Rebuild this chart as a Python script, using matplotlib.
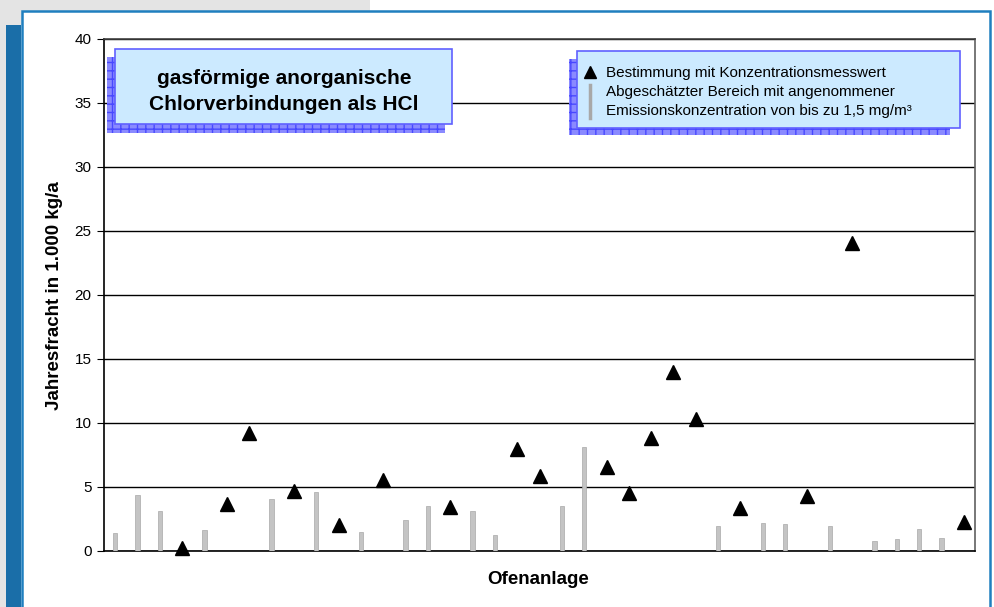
import matplotlib.pyplot as plt
from matplotlib.patches import Rectangle
from matplotlib.lines import Line2D
import numpy as np

plt.rcParams['font.family'] = ['Liberation Sans', 'DejaVu Sans']

# 39 Ofenanlagen, jeweils Messwert (Dreieck) oder abgeschätzter Bereich (Balken)
n_anlagen = 39
mess_idx = [3, 5, 6, 8, 10, 12, 15, 18, 19, 22, 23, 24, 25, 26, 28, 31, 33, 38]
mess_wert = [0.2, 3.7, 9.25, 4.65, 2.0, 5.55, 3.45, 8.0, 5.85, 6.6, 4.5, 8.8,
             14.0, 10.35, 3.35, 4.3, 24.05, 2.25]
bereich_idx = [0, 1, 2, 4, 7, 9, 11, 13, 14, 16, 17, 20, 21, 27, 29, 30, 32,
               34, 35, 36, 37]
bereich_max = [1.4, 4.35, 3.1, 1.65, 4.05, 4.6, 1.5, 2.4, 3.55, 3.1, 1.25, 3.55,
               8.1, 1.95, 2.15, 2.1, 1.95, 0.75, 0.9, 1.7, 1.0]

W, H = 994, 607
fig = plt.figure(figsize=(W / 100, H / 100), dpi=100, facecolor='white')


def px(x0, y0, x1, y1):
    # Pixelkoordinaten (oben links) -> Figurenanteile
    return (x0 / W, 1 - y1 / H, (x1 - x0) / W, (y1 - y0) / H)


def rect(x0, y0, x1, y1, **kw):
    l, b, w, h = px(x0, y0, x1, y1)
    r = Rectangle((l, b), w, h, transform=fig.transFigure, **kw)
    fig.add_artist(r)
    return r


# Hintergrund / Rahmen
rect(0, 0, 370, 11, facecolor='#e4e4e4', edgecolor='none', zorder=0)
rect(0, 0, 22, 25, facecolor='#e4e4e4', edgecolor='none', zorder=0)
rect(0, 0, 6, H, facecolor='#e4e4e4', edgecolor='none', zorder=0)
rect(6, 25, 21, H, facecolor='#1a6ea8', edgecolor='none', zorder=0)
rect(22, 11, 990, H + 5, facecolor='white', edgecolor='#1f7fbf', lw=1.8, zorder=0)

ax = fig.add_axes(px(104, 39, 975, 551))
ax.set_facecolor('none')

x = np.arange(n_anlagen)
ax.bar(x[bereich_idx], bereich_max, width=0.18, color='#c4c4c4',
       edgecolor='#a8a8a8', lw=0.5, zorder=3)
ax.plot(x[mess_idx], mess_wert, linestyle='none', marker='^', color='black',
        markersize=10, zorder=4, clip_on=False)

ax.set_xlim(-0.5, n_anlagen - 0.5)
ax.set_ylim(0, 40)
ax.set_yticks(np.arange(0, 41, 5))
ax.set_xticks([])
ax.yaxis.grid(True, color='black', lw=1)
ax.set_axisbelow(True)
ax.tick_params(axis='y', direction='out', length=5, labelsize=11, pad=4)
ax.spines['left'].set_color('black')
ax.spines['bottom'].set_color('black')
ax.spines['top'].set_color('#404040')
ax.spines['right'].set_color('#606060')
for s in ax.spines.values():
    s.set_linewidth(1.2)

fig.text(55 / W, 1 - 296 / H, 'Jahresfracht in 1.000 kg/a', rotation=90,
         ha='center', va='center', fontsize=13.5, fontweight='bold')
fig.text(538 / W, 1 - 580 / H, 'Ofenanlage', ha='center', va='center',
         fontsize=13.5, fontweight='bold')

# Titelbox mit Schatten
rect(107, 57, 445, 133, facecolor='#8a8aff', edgecolor='#4848ff', hatch='++',
     lw=0, zorder=5)
rect(115, 49, 452, 124, facecolor='#cceaff', edgecolor='#6060ff', lw=1.2, zorder=6)
fig.text(284 / W, 1 - 91.5 / H, 'gasförmige anorganische\nChlorverbindungen als HCl',
         ha='center', va='center', fontsize=15, fontweight='bold',
         linespacing=1.4, zorder=7)

# Legendenbox mit Schatten
rect(569, 59, 950, 135, facecolor='#8a8aff', edgecolor='#4848ff', hatch='++',
     lw=0, zorder=5)
rect(577, 51, 960, 128, facecolor='#cceaff', edgecolor='#6060ff', lw=1.2, zorder=6)
fig.add_artist(Line2D([590 / W], [1 - 72 / H], marker='^', color='black',
                      markersize=9, transform=fig.transFigure, zorder=7))
fig.add_artist(Line2D([590 / W, 590 / W], [1 - 85 / H, 1 - 118 / H],
                      color='#a8a8a8', lw=2.5, transform=fig.transFigure, zorder=7))
leg_texte = ['Bestimmung mit Konzentrationsmesswert',
             'Abgeschätzter Bereich mit angenommener',
             'Emissionskonzentration von bis zu 1,5 mg/m³']
for i, t in enumerate(leg_texte):
    fig.text(606 / W, 1 - (72.5 + 19.5 * i) / H, t, ha='left', va='center',
             fontsize=11, zorder=7)

fig.savefig('out.png', dpi=100, facecolor='white')
